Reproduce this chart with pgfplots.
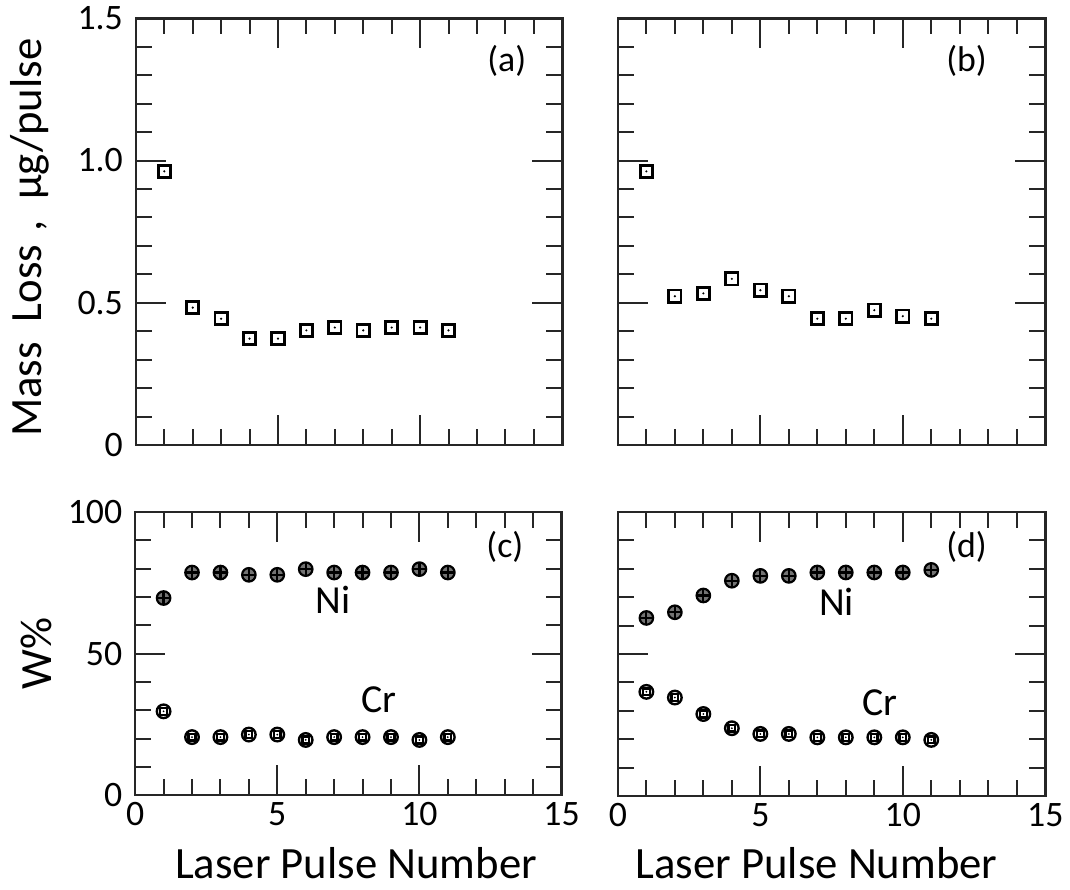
\documentclass[border=0pt]{standalone}
\usepackage{fontspec}
\setmainfont{Carlito}
\usepackage{pgfplots}
\pgfplotsset{compat=1.18}

\pgfdeclareplotmark{sqd}{%
  \pgfpathrectangle{\pgfpoint{-\pgfplotmarksize}{-\pgfplotmarksize}}{\pgfpoint{2\pgfplotmarksize}{2\pgfplotmarksize}}%
  \pgfusepathqstroke
  \pgfpathcircle{\pgfpointorigin}{0.6pt}\pgfusepathqfill}
\pgfdeclareplotmark{nim}{%
  \pgfpathcircle{\pgfpointorigin}{\pgfplotmarksize}\pgfusepathqfillstroke
  \pgfpathmoveto{\pgfpoint{-\pgfplotmarksize}{0pt}}\pgfpathlineto{\pgfpoint{\pgfplotmarksize}{0pt}}%
  \pgfpathmoveto{\pgfpoint{0pt}{-\pgfplotmarksize}}\pgfpathlineto{\pgfpoint{0pt}{\pgfplotmarksize}}%
  \pgfusepathqstroke}
\pgfdeclareplotmark{crm}{%
  \pgfpathcircle{\pgfpointorigin}{\pgfplotmarksize}\pgfusepathqstroke
  \pgfpathrectangle{\pgfpoint{-0.5\pgfplotmarksize}{-0.5\pgfplotmarksize}}{\pgfpoint{\pgfplotmarksize}{\pgfplotmarksize}}%
  \pgfusepathqstroke
  \pgfpathcircle{\pgfpointorigin}{0.5pt}\pgfusepathqfill}

\tikzset{
  plab/.style={font=\fontsize{18}{20}\selectfont},
  elab/.style={font=\fontsize{20}{22}\selectfont},
}
\pgfplotsset{
  myax/.style={
    scale only axis, clip=false,
    xmin=0, xmax=15, xtick={0,5,10,15},
    minor x tick num=4, minor y tick num=4,
    tick align=inside, tick pos=both,
    major tick length=15pt, minor tick length=8pt,
    axis line style={line width=1.3pt, black!85},
    tick style={line width=1pt, black!85},
    tick label style={font=\fontsize{18}{20}\selectfont, black},
    /pgf/number format/assume math mode=true,
    yticklabel style={xshift=-3pt},
  },
  sqser/.style={only marks, mark=sqd, mark size=3.1pt, line width=1.4pt, black, mark options={fill=black}},
  niser/.style={only marks, mark=nim, mark size=3.4pt, line width=1.1pt, black, mark options={fill=black!55, draw=black}},
  crser/.style={only marks, mark=crm, mark size=3.4pt, line width=1.2pt, black, mark options={fill=black}},
}

\begin{document}
\begin{tikzpicture}[x=1pt,y=1pt]
\path (0,0) rectangle (535,445);

% (a)
\begin{axis}[myax, at={(68.35pt,223.65pt)}, anchor=south west,
  width=214.5pt, height=214.7pt,
  ymin=0, ymax=1.5, ytick={0,0.5,1,1.5}, yticklabels={0,0.5,1.0,1.5},
  xticklabels={},
  ylabel={Mass\hspace{0.45em}Loss\hspace{0.3em},\hspace{0.45em}µg/pulse},
  ylabel style={at={(axis description cs:-0.221,0.486)}, anchor=base, font=\fontsize{22.5}{24}\selectfont}]
\addplot[sqser] coordinates {(1,0.962) (2,0.483) (3,0.444) (4,0.374) (5,0.374) (6,0.403) (7,0.413) (8,0.403) (9,0.413) (10,0.413) (11,0.403)};
\node[plab] at (rel axis cs:0.87,0.90) {(a)};
\end{axis}

% (b)
\begin{axis}[myax, at={(310.85pt,223.65pt)}, anchor=south west,
  width=215pt, height=214.7pt,
  ymin=0, ymax=1.5, ytick={0,0.5,1,1.5}, yticklabels={},
  xticklabels={}]
\addplot[sqser] coordinates {(1,0.962) (2,0.523) (3,0.533) (4,0.584) (5,0.544) (6,0.523) (7,0.444) (8,0.444) (9,0.474) (10,0.453) (11,0.444)};
\node[plab] at (rel axis cs:0.816,0.90) {(b)};
\end{axis}

% (c)
\begin{axis}[myax, at={(68pt,47.5pt)}, anchor=south west,
  width=214.5pt, height=142.5pt,
  ymin=0, ymax=100, ytick={0,50,100},
  ylabel={W\%},
  ylabel style={at={(axis description cs:-0.196,0.5)}, anchor=base, font=\fontsize{22.5}{24}\selectfont},
  xlabel={Laser Pulse Number},
  xlabel style={at={(axis description cs:0.518,-0.293)}, anchor=base, font=\fontsize{22.5}{24}\selectfont}]
\addplot[niser] coordinates {(1,69.6) (2,78.6) (3,78.6) (4,77.8) (5,77.8) (6,79.8) (7,78.6) (8,78.6) (9,78.6) (10,79.8) (11,78.6)};
\addplot[crser] coordinates {(1,29.6) (2,20.5) (3,20.5) (4,21.4) (5,21.4) (6,19.5) (7,20.5) (8,20.5) (9,20.5) (10,19.5) (11,20.5)};
\node[plab] at (rel axis cs:0.867,0.877) {(c)};
\node[elab] at (axis cs:6.96,69.1) {Ni};
\node[elab] at (axis cs:8.57,33.7) {Cr};
\end{axis}

% (d)
\begin{axis}[myax, at={(310.85pt,47pt)}, anchor=south west,
  width=215pt, height=143pt,
  ymin=0, ymax=100, ytick={0,50,100}, yticklabels={},
  xlabel={Laser Pulse Number},
  xlabel style={at={(axis description cs:0.465,-0.29)}, anchor=base, font=\fontsize{22.5}{24}\selectfont}]
\addplot[niser] coordinates {(1,62.7) (2,64.7) (3,70.6) (4,75.8) (5,77.5) (6,77.5) (7,78.7) (8,78.7) (9,78.7) (10,78.7) (11,79.6)};
\addplot[crser] coordinates {(1,36.7) (2,34.7) (3,28.9) (4,23.9) (5,21.9) (6,21.9) (7,20.7) (8,20.7) (9,20.7) (10,20.7) (11,19.8)};
\node[plab] at (rel axis cs:0.816,0.877) {(d)};
\node[elab] at (axis cs:7.67,68.5) {Ni};
\node[elab] at (axis cs:9.21,32.9) {Cr};
\end{axis}
\end{tikzpicture}
\end{document}
